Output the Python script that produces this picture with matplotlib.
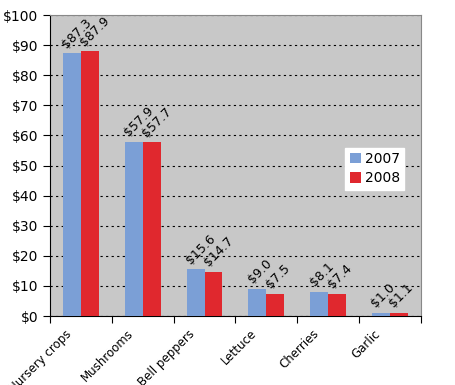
import numpy as np
import matplotlib.pyplot as plt

categories = ['Nursery crops', 'Mushrooms', 'Bell peppers', 'Lettuce', 'Cherries', 'Garlic']
v2007 = [87.3, 57.9, 15.6, 9.0, 8.1, 1.0]
v2008 = [87.9, 57.7, 14.7, 7.5, 7.4, 1.1]

fig = plt.figure(figsize=(4.55, 3.85), dpi=100)
ax = fig.add_axes([0.110, 0.179, 0.815, 0.782])
ax.set_facecolor('#c8c8c8')

x = np.arange(len(categories))
w = 0.29
b1 = ax.bar(x - w/2, v2007, w, color='#7b9fd6', label='2007', zorder=3)
b2 = ax.bar(x + w/2, v2008, w, color='#e0282e', label='2008', zorder=3)

for bars, vals in [(b1, v2007), (b2, v2008)]:
    for r, v in zip(bars, vals):
        ax.annotate(f'${v:.1f}', (r.get_x(), v), xytext=(4, 5), textcoords='offset pixels',
                    rotation=45, fontsize=9, ha='left', va='baseline',
                    rotation_mode='anchor', zorder=4)

ax.set_xlim(-0.5, len(categories) - 0.5)
ax.set_ylim(0, 100)
ax.set_yticks(range(0, 101, 10))
ax.set_yticklabels([f'${t}' for t in range(0, 101, 10)], fontsize=10)
ax.set_xticks(np.arange(len(categories) + 1) - 0.5)
ax.set_xticklabels([])
ax.set_xticks(x - 0.26, minor=True)
ax.set_xticklabels(categories, minor=True, rotation=45, ha='right',
                   rotation_mode='anchor', fontsize=8.5)
ax.tick_params(axis='x', which='minor', length=0, pad=8)
ax.tick_params(axis='x', which='major', length=5, direction='out')
ax.tick_params(axis='y', length=5, direction='out')

ax.grid(axis='y', color='black', linestyle=(0, (2, 3)), linewidth=0.8, zorder=1)
ax.spines['top'].set_color('#888888')
ax.spines['right'].set_color('#888888')

ax.legend(loc='center right', bbox_to_anchor=(0.955, 0.49), frameon=True, fancybox=False,
          edgecolor='white', framealpha=1, fontsize=10, handlelength=0.8, handleheight=0.8,
          handletextpad=0.3, borderpad=0.3, labelspacing=0.4, borderaxespad=0)

fig.savefig('out.png', dpi=100)
